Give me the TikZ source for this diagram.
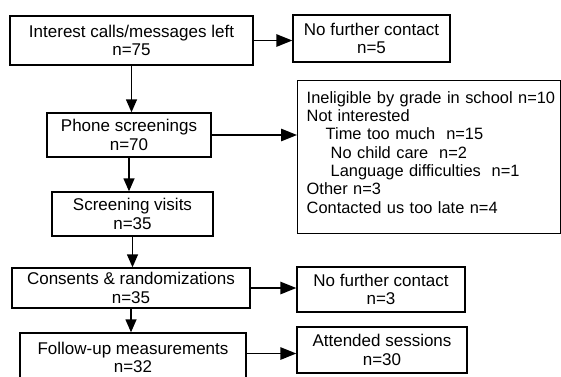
\documentclass[tikz,border=0pt]{standalone}
\usepackage{fontspec}
\setmainfont{Liberation Sans}
\usetikzlibrary{arrows.meta}

\begin{document}
\begin{tikzpicture}[x=1pt, y=-1pt, line width=1.4pt,
  box/.style={draw, align=center, inner sep=0pt, font=\fontsize{17}{18.5}\selectfont},
  down/.style={-{Triangle[length=13pt,width=11pt]}},
  side/.style={-{Triangle[length=16pt,width=12.5pt]}}]
  \path[use as bounding box, clip] (0,0) rectangle (561,376);
  % left column
  \node[box, minimum width=243pt, minimum height=49pt] (interest) at (131.5,40.5)
    {Interest calls/messages left\\n=75};
  \node[box, minimum width=164pt, minimum height=44pt] (phone) at (129,135)
    {Phone screenings\\n=70};
  \node[box, minimum width=161pt, minimum height=44pt] (visits) at (132.5,214)
    {Screening visits\\n=35};
  \node[box, minimum width=238pt, minimum height=40pt] (consents) at (131,288)
    {Consents \& randomizations\\n=35};
  \node[box, minimum width=226pt, minimum height=49pt] (followup) at (133,357.5)
    {Follow-up measurements\\n=32};
  % right column
  \node[box, minimum width=157pt, minimum height=47pt] (nocontact) at (371.5,38.5)
    {No further contact\\n=5};
  \node[box, align=left, anchor=north west, text width=263pt, inner xsep=0pt,
    font=\fontsize{16.4}{18.3}\selectfont,
    text height=22.5pt, text depth=130.5pt] (reasons) at (297,80)
    {\hspace*{9pt}\mbox{Ineligible by grade in school n=10}\\
     \hspace*{9pt}Not interested\\
     \hspace*{28pt}Time too much~ n=15\\
     \hspace*{33pt}No child care~ n=2\\
     \hspace*{33pt}Language difficulties~ n=1\\
     \hspace*{9pt}Other n=3\\
     \hspace*{9pt}Contacted us too late n=4};
  \node[box, minimum width=168pt, minimum height=45pt] (nocontactb) at (381,289.5)
    {No further contact\\n=3};
  \node[box, minimum width=170pt, minimum height=46pt] (attended) at (382,350)
    {Attended sessions\\n=30};
  % connectors
  \draw[down] (interest.south) -- (interest.south |- phone.north);
  \draw[down] (phone.south) -- (phone.south |- visits.north);
  \draw[down] (visits.south) -- (visits.south |- consents.north);
  \draw[down] (consents.south) -- (consents.south |- followup.north);
  \draw[side] (interest.east) -- (interest.east -| nocontact.west);
  \draw[side] (phone.east) -- (phone.east -| reasons.west);
  \draw[side] (consents.east) -- (consents.east -| nocontactb.west);
  \draw[side] ([yshift=4pt]followup.east) coordinate (fu) -- (fu -| attended.west);
\end{tikzpicture}
\end{document}
